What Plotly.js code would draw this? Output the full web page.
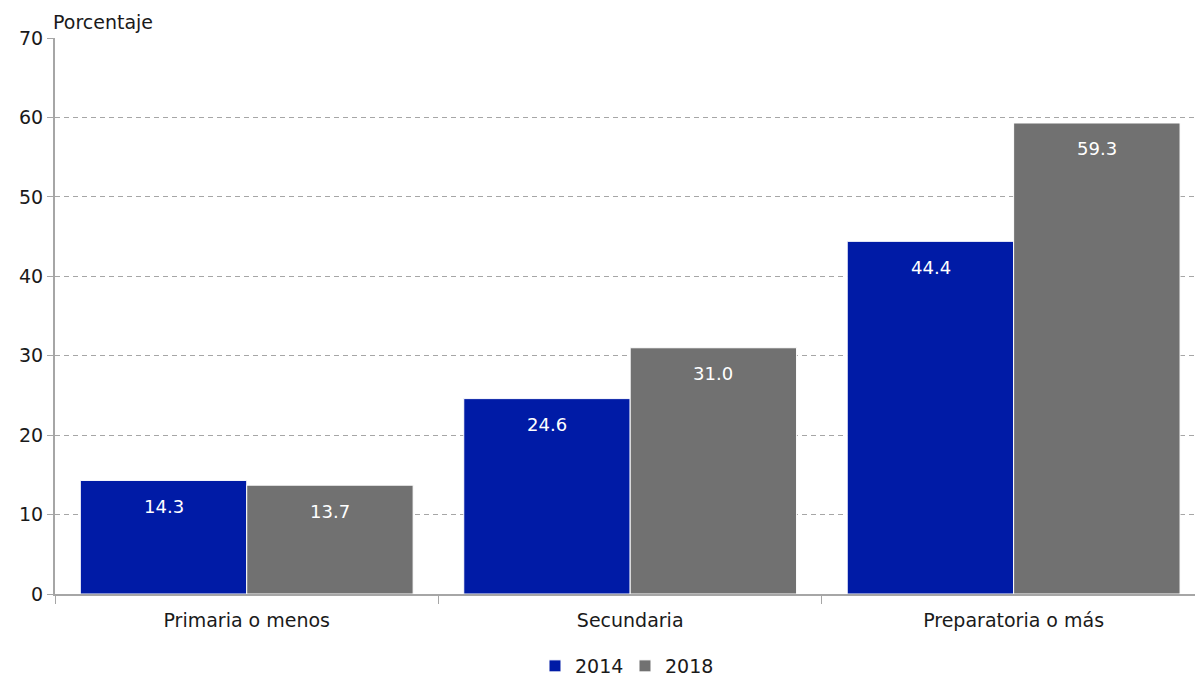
<!DOCTYPE html>
<html>
<head>
<meta charset="utf-8">
<script src="https://cdn.plot.ly/plotly-3.0.1.min.js"></script>
<style>html,body{margin:0;padding:0;background:#fff;}#chart{width:1195px;height:681px;}</style>
</head>
<body>
<div id="chart"></div>
<script>
const categories = ["Primaria o menos", "Secundaria", "Preparatoria o más"];
const values2014 = [14.3, 24.6, 44.4];
const values2018 = [13.7, 31.0, 59.3];
const seriesNames = ["2014", "2018"];
const yTicks = [0, 10, 20, 30, 40, 50, 60, 70];

const FONT = "DejaVu Sans, sans-serif";
const FS = 19;
const colors = ["#001BA6", "#717171"];

const traces = [values2014, values2018].map((vals, i) => ({
  type: "bar",
  name: seriesNames[i],
  x: categories,
  y: vals,
  marker: {color: colors[i], line: {color: "#ffffff", width: 1}},
  hoverinfo: "none"
}));

const annotations = [];
[values2014, values2018].forEach((vals, i) => {
  vals.forEach((v, j) => {
    annotations.push({
      x: categories[j], y: v, xref: "x", yref: "y",
      text: v.toFixed(1), showarrow: false,
      xshift: i === 0 ? -83 : 83, yshift: -26,
      font: {family: FONT, size: 18, color: "#ffffff"}
    });
  });
});
annotations.push({
  xref: "paper", yref: "paper", x: 0, y: 1, xanchor: "left", yanchor: "bottom",
  xshift: -4, yshift: 3,
  text: "Porcentaje", showarrow: false,
  font: {family: FONT, size: FS, color: "#1a1a1a"}
});

const layout = {
  width: 1195, height: 681,
  margin: {l: 55, r: 0, t: 38, b: 87, autoexpand: false},
  paper_bgcolor: "#fff", plot_bgcolor: "#fff",
  font: {family: FONT, size: FS, color: "#1a1a1a"},
  barmode: "group", bargap: 0.132, bargroupgap: 0,
  showlegend: true,
  legend: {orientation: "h", x: 0.523, xref: "container", xanchor: "center",
           y: 0.022, yref: "container", yanchor: "middle",
           entrywidth: 45, entrywidthmode: "pixels",
           font: {family: FONT, size: FS, color: "#1a1a1a"}, itemwidth: 30, traceorder: "normal"},
  xaxis: {
    type: "category", range: [-0.5, 2.473], showline: true, linecolor: "#A6A6A6", linewidth: 2, automargin: false,
    ticks: "outside", tickson: "boundaries", ticklen: 8, tickcolor: "#A6A6A6", tickwidth: 1,
    ticklabelstandoff: 8,
    showgrid: false, tickfont: {family: FONT, size: FS, color: "#1a1a1a"}
  },
  yaxis: {
    range: [0, 70], tickvals: yTicks, showline: true, linecolor: "#A6A6A6", linewidth: 2, automargin: false,
    ticks: "outside", ticklen: 6, tickcolor: "#A6A6A6",
    showgrid: true, gridcolor: "#A6A6A6", griddash: "5px,4px", gridwidth: 1,
    zeroline: false, tickfont: {family: FONT, size: FS, color: "#1a1a1a"}
  },
  annotations: annotations
};

Plotly.newPlot("chart", traces, layout, {staticPlot: true});
</script>
</body>
</html>
